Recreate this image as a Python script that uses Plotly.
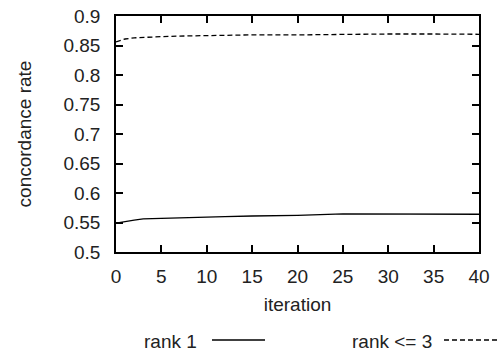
import plotly.graph_objects as go

iteration = [0, 1, 2, 3, 5, 7, 10, 12, 15, 20, 25, 30, 35, 40]
rank1 = [0.549, 0.552, 0.554, 0.556, 0.557, 0.558, 0.560, 0.560, 0.561, 0.562, 0.5645, 0.564, 0.5645, 0.564]
rank3 = [0.856, 0.861, 0.863, 0.864, 0.865, 0.866, 0.867, 0.867, 0.868, 0.868, 0.869, 0.8695, 0.8695, 0.869]
names = ["rank 1", "rank <= 3"]
yticks = [0.5, 0.55, 0.6, 0.65, 0.7, 0.75, 0.8, 0.85, 0.9]
xticks = [0, 5, 10, 15, 20, 25, 30, 35, 40]

FONT = "Liberation Sans, Arial, sans-serif"
FS = 19
TXT = "#222"
DASH = "5px,3px"

W, H = 499, 351
pl, pr, pt, pb = 116, 20, 16, 99
pw, ph = W - pl - pr, H - pt - pb


def px(xp):
    return (xp - pl) / pw


def py(yp):
    return (H - pb - yp) / ph


fig = go.Figure()
fig.add_trace(go.Scatter(x=iteration, y=rank1, mode="lines", name=names[0],
                         line=dict(color="black", width=1.3), showlegend=False))
fig.add_trace(go.Scatter(x=iteration, y=rank3, mode="lines", name=names[1],
                         line=dict(color="black", width=1.3, dash=DASH), showlegend=False))

axis_common = dict(showline=True, linecolor="black", linewidth=1.5, mirror="ticks",
                   ticks="inside", ticklen=7, tickwidth=1.5, tickcolor="black",
                   showgrid=False, zeroline=False, automargin=False,
                   tickfont=dict(family=FONT, size=FS, color=TXT))
fig.update_xaxes(range=[0, 40], tickvals=xticks, ticktext=[str(v) for v in xticks],
                 ticklabelstandoff=6,
                 title=dict(text="iteration", font=dict(family=FONT, size=FS, color=TXT), standoff=12),
                 **axis_common)
fig.update_yaxes(range=[0.5, 0.9], tickvals=yticks, ticktext=[f"{v:g}" for v in yticks],
                 ticklabelstandoff=10,
                 title=dict(text="concordance rate", font=dict(family=FONT, size=FS, color=TXT), standoff=27),
                 **axis_common)

# legend (label text followed by line sample) at bottom
fig.add_annotation(x=px(199), y=py(341), xref="paper", yref="paper", text=names[0], showarrow=False,
                   xanchor="right", yanchor="middle", font=dict(family=FONT, size=FS, color=TXT))
fig.add_annotation(x=px(434), y=py(341), xref="paper", yref="paper", text=names[1], showarrow=False,
                   xanchor="right", yanchor="middle", font=dict(family=FONT, size=FS, color=TXT))
fig.add_shape(type="line", xref="paper", yref="paper", x0=px(212), x1=px(265), y0=py(340), y1=py(340),
              line=dict(color="black", width=1.3))
fig.add_shape(type="line", xref="paper", yref="paper", x0=px(444), x1=px(499), y0=py(340), y1=py(340),
              line=dict(color="black", width=1.3, dash=DASH))

fig.update_layout(
    width=W, height=H,
    margin=dict(l=pl, r=pr, t=pt, b=pb, autoexpand=False),
    paper_bgcolor="white", plot_bgcolor="white",
    showlegend=False,
)

post = ("document.body.style.margin='0';document.body.style.padding='0';"
        "var gd=document.getElementById('{plot_id}');"
        "gd.style.position='absolute';gd.style.left='0px';gd.style.top='0px';")
fig.write_html("out.html", post_script=post, config={"displayModeBar": False})
